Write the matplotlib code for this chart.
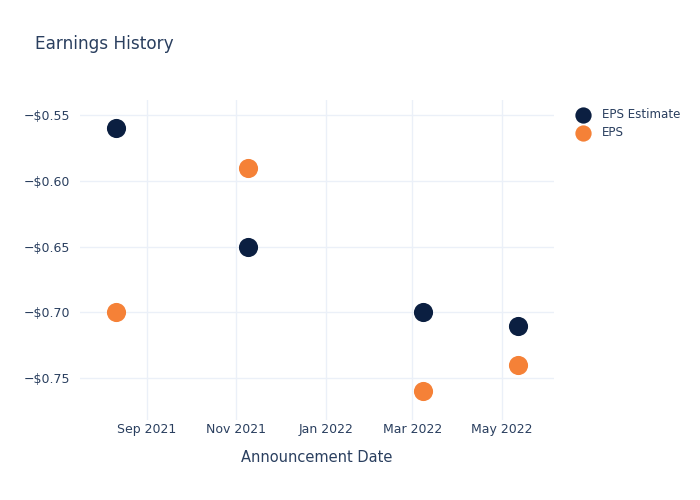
import matplotlib
matplotlib.use("Agg")
import matplotlib.pyplot as plt
import matplotlib.dates as mdates
from matplotlib.ticker import FuncFormatter
import datetime as dt

dates = ["2021-08-11", "2021-11-09", "2022-03-08", "2022-05-12"]
eps_estimate = [-0.56, -0.65, -0.70, -0.71]
eps_actual = [-0.70, -0.59, -0.76, -0.74]
tick_dates = ["2021-09-01", "2021-11-01", "2022-01-01", "2022-03-01", "2022-05-01"]
tick_labels = ["Sep 2021", "Nov 2021", "Jan 2022", "Mar 2022", "May 2022"]
y_ticks = [-0.55, -0.60, -0.65, -0.70, -0.75]

TEXT = "#2a3f5f"
GRID = "#ebf0f8"
NAVY = "#0b1f41"
ORANGE = "#f58137"

x = [dt.datetime.fromisoformat(d) for d in dates]
xt = [dt.datetime.fromisoformat(d) for d in tick_dates]

fig = plt.figure(figsize=(7, 5), dpi=100)
ax = fig.add_axes([80/700, 80/500, (554-80)/700, 320/500])

ax.scatter(x, eps_estimate, s=190, color=NAVY, label="EPS Estimate", zorder=3, linewidths=0)
ax.scatter(x, eps_actual, s=190, color=ORANGE, label="EPS", zorder=3, linewidths=0)

ax.set_xlim(dt.datetime(2021, 7, 17, 12), dt.datetime(2022, 6, 5, 12))
ax.set_ylim(-0.7817, -0.5386)
ax.set_xticks(xt)
ax.set_xticklabels(tick_labels)
ax.set_yticks(y_ticks)
ax.yaxis.set_major_formatter(FuncFormatter(lambda v, p: "\u2212$%.2f" % abs(v)))

ax.grid(True, color=GRID, linewidth=1)
ax.set_axisbelow(True)
for s in ax.spines.values():
    s.set_visible(False)
ax.tick_params(length=0, colors=TEXT, labelsize=9)
ax.tick_params(axis="y", pad=7)
ax.tick_params(axis="x", pad=2)

ax.set_xlabel("Announcement Date", color=TEXT, fontsize=10.5, labelpad=10)
fig.text(35/700, 1 - 44/500, "Earnings History", color=TEXT, fontsize=12.2, va="center", ha="left")

leg = ax.legend(loc="upper left", bbox_to_anchor=(1.03, 0.99), frameon=False,
                fontsize=8.6, labelcolor=TEXT, handletextpad=0.8, borderaxespad=0,
                labelspacing=0.45, markerscale=0.85, handlelength=1.6)

fig.savefig("out.png", dpi=100)
